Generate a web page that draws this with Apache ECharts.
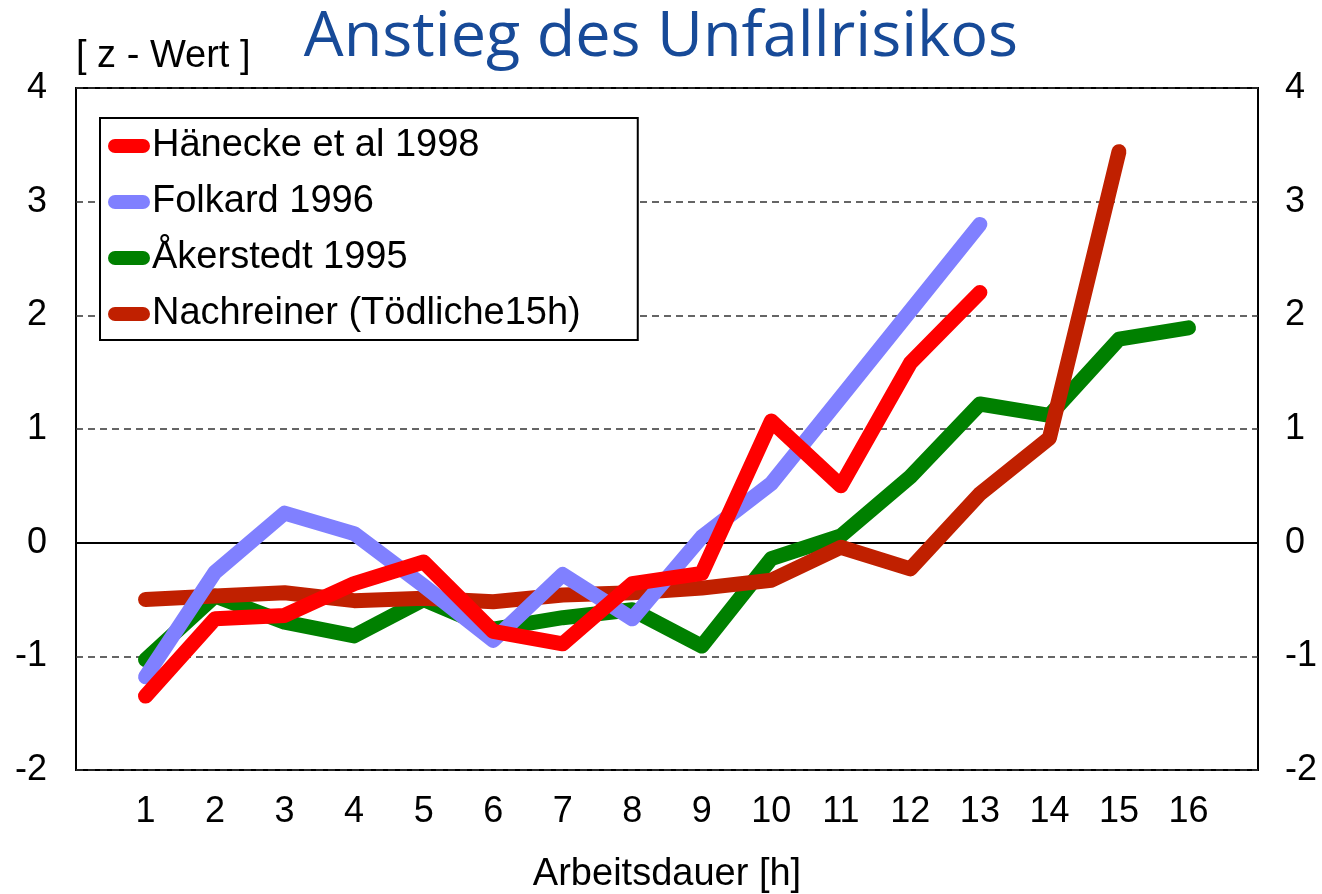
<!DOCTYPE html>
<html>
<head>
<meta charset="utf-8">
<script src="https://cdn.jsdelivr.net/npm/echarts@6/dist/echarts.min.js"></script>
<style>
  html, body { margin: 0; padding: 0; background: #fff; }
  #chart { width: 1322px; height: 894px; }
</style>
</head>
<body>
<div id="chart"></div>
<script>
// Arbeitsdauer in Stunden
var hours = [1, 2, 3, 4, 5, 6, 7, 8, 9, 10, 11, 12, 13, 14, 15, 16];

// z-Werte je Studie
var haenecke   = [-1.35, -0.67, -0.64, -0.36, -0.17, -0.78, -0.89, -0.36, -0.27, 1.07, 0.50, 1.58, 2.20];
var folkard    = [-1.18, -0.26, 0.26, 0.08, -0.38, -0.86, -0.28, -0.67, 0.05, 0.52, 1.28, 2.04, 2.80];
var akerstedt  = [-1.03, -0.47, -0.70, -0.82, -0.50, -0.76, -0.66, -0.59, -0.91, -0.14, 0.06, 0.58, 1.22, 1.12, 1.79, 1.89];
var nachreiner = [-0.50, -0.47, -0.44, -0.51, -0.49, -0.52, -0.46, -0.44, -0.40, -0.33, -0.04, -0.23, 0.43, 0.92, 3.44];

var names = ['Hänecke et al 1998', 'Folkard 1996', 'Åkerstedt 1995', 'Nachreiner (Tödliche15h)'];
var colors = ['#ff0000', '#8080ff', '#008000', '#c02000'];

function pairs(vals) {
    return vals.map(function (v, i) { return [hours[i], v]; });
}

var myChart = echarts.init(document.getElementById('chart'));

var font = 'Liberation Sans, Arial, sans-serif';
var capsule = 'path://M7,0 H35 A7,7 0 0 1 35,14 H7 A7,7 0 0 1 7,0 Z';

function line(idx, vals, z) {
    return {
        name: names[idx],
        type: 'line',
        data: pairs(vals),
        z: z,
        symbol: 'none',
        color: colors[idx],
        lineStyle: { width: 15, color: colors[idx], cap: 'round', join: 'round' }
    };
}

var option = {
    backgroundColor: '#fff',
    animation: false,
    title: {
        text: 'Anstieg des Unfallrisikos',
        left: 'center',
        top: 2,
        textStyle: { color: '#174a98', fontSize: 63, fontWeight: 'normal', fontFamily: 'Open Sans, sans-serif' }
    },
    graphic: [
        {
            type: 'text', left: 76, top: 38,
            style: { text: '[ z - Wert ]', font: '38px ' + font, fill: '#000' }
        }
    ],
    legend: {
        orient: 'vertical',
        left: 100,
        top: 118,
        padding: [9, 57, 7, 8],
        itemGap: 18,
        itemWidth: 42,
        itemHeight: 14,
        icon: capsule,
        backgroundColor: '#fff',
        borderColor: '#000',
        borderWidth: 2,
        z: 10,
        textStyle: { fontSize: 38, color: '#000', fontFamily: font, padding: [0, 0, 0, -3] },
        data: names
    },
    grid: {
        left: 76, right: 64, top: 88, bottom: 124,
        outerBoundsMode: 'none',
        containLabel: false,
        show: true, borderColor: '#000', borderWidth: 2, backgroundColor: 'transparent'
    },
    xAxis: {
        type: 'value',
        min: 0, max: 17, interval: 1,
        name: 'Arbeitsdauer [h]',
        nameLocation: 'middle',
        nameGap: 86,
        nameTextStyle: { fontSize: 38, color: '#000', fontFamily: font },
        axisLine: { show: false },
        axisTick: { show: false },
        splitLine: { show: false },
        axisLabel: {
            fontSize: 36, color: '#000', fontFamily: font, margin: 24,
            formatter: function (v) { return (v >= 1 && v <= 16) ? String(v) : ''; }
        }
    },
    yAxis: [
        {
            type: 'value', min: -2, max: 4, interval: 1, position: 'left',
            axisLine: { show: false }, axisTick: { show: false },
            axisLabel: { fontSize: 36, color: '#000', fontFamily: font, margin: 29 },
            splitLine: { show: true, lineStyle: { color: '#333', type: [7, 5], width: 1.5 } }
        },
        {
            type: 'value', min: -2, max: 4, interval: 1, position: 'right',
            axisLine: { show: false }, axisTick: { show: false },
            axisLabel: { fontSize: 36, color: '#000', fontFamily: font, margin: 27 },
            splitLine: { show: false }
        }
    ],
    series: [
        Object.assign(line(0, haenecke, 6), {
            markLine: {
                silent: true, symbol: 'none', z: 1,
                label: { show: false },
                lineStyle: { color: '#000', type: 'solid', width: 2 },
                data: [{ yAxis: 0 }]
            }
        }),
        line(1, folkard, 5),
        line(2, akerstedt, 3),
        line(3, nachreiner, 4)
    ]
};

myChart.setOption(option);
</script>
</body>
</html>
